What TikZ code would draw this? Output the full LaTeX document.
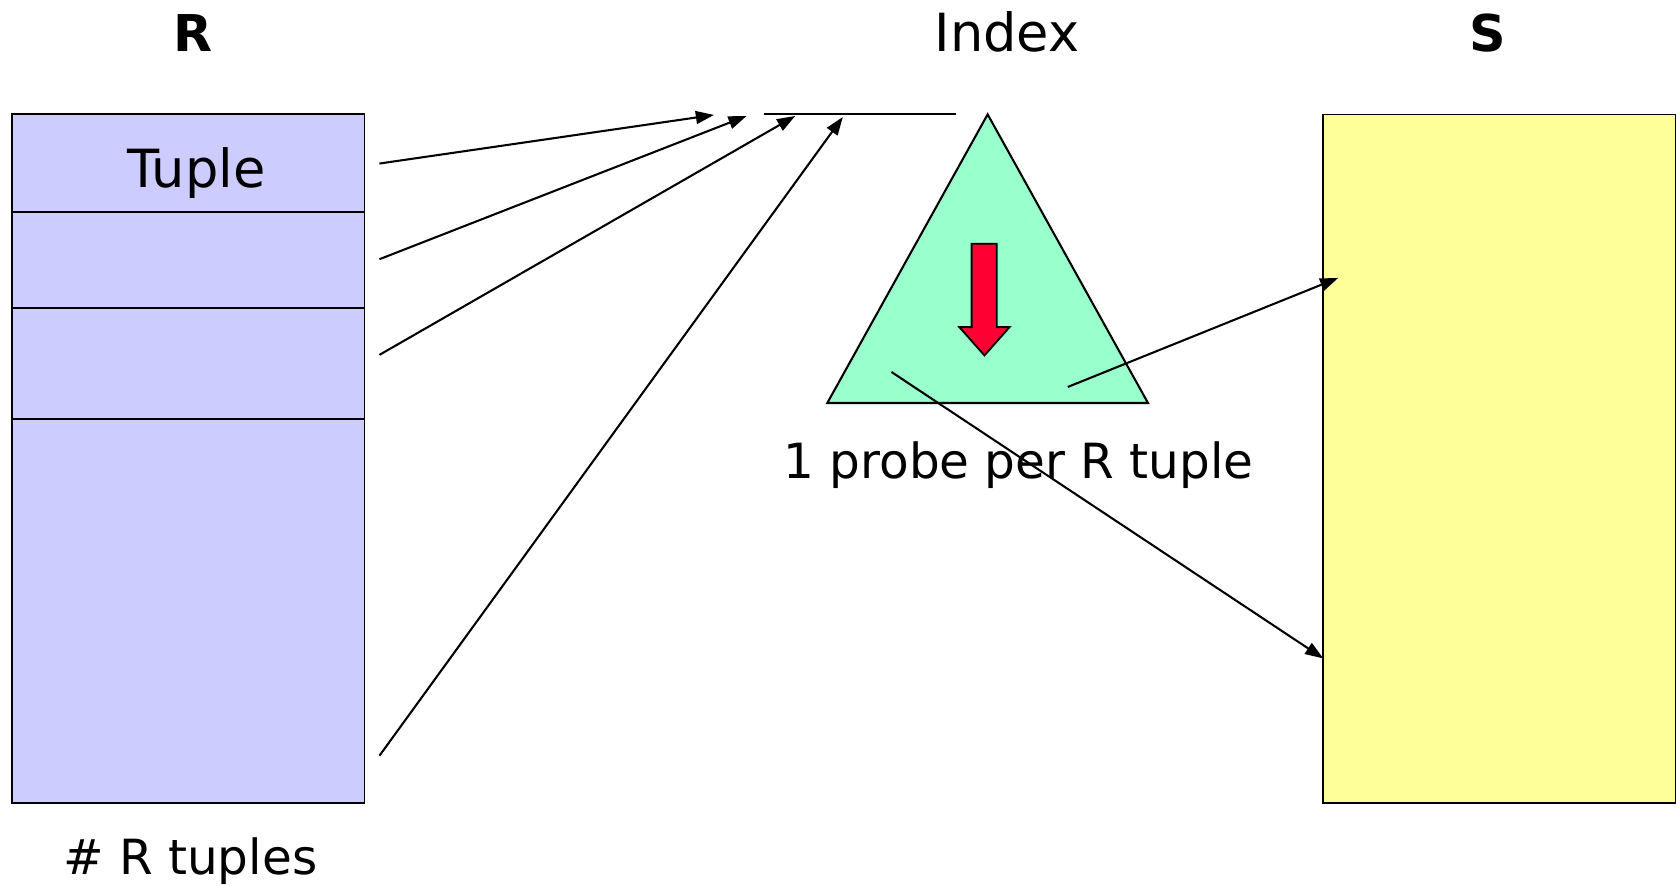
\documentclass[tikz,border=0pt]{standalone}
\usepackage{fontspec}
\setmainfont{DejaVu Sans}
\usetikzlibrary{arrows.meta}
\definecolor{rcol}{HTML}{CCCCFF}
\definecolor{scol}{HTML}{FFFF99}
\definecolor{tcol}{HTML}{99FFCC}
\definecolor{redc}{HTML}{FF0033}
\tikzset{
  rbox/.style={draw=black, line width=1pt, fill=rcol, minimum width=6.6cm, inner sep=0pt, outer sep=0pt},
  sbox/.style={draw=black, line width=1pt, fill=scol, minimum width=6.6cm, minimum height=12.88cm, inner sep=0pt},
  lbl/.style={font=\fontsize{25.8}{30}\selectfont, anchor=base, inner sep=0pt},
  biglbl/.style={font=\fontsize{28}{30}\selectfont, anchor=base, inner sep=0pt},
  blbl/.style={font=\fontsize{27}{30}\selectfont\bfseries, anchor=base, inner sep=0pt},
  arr/.style={line width=1.1pt, -{Triangle[length=0.34cm, width=0.24cm]}},
  plain/.style={line width=1.1pt}
}
\begin{document}
\begin{tikzpicture}[x=0.02cm, y=-0.02cm]
\useasboundingbox (0,0) rectangle (1568,829);
% R relation
\node[rbox, minimum height=1.82cm] (r1) at (176,152.5) {};
\node[rbox, minimum height=1.80cm] (r2) at (176,243) {};
\node[rbox, minimum height=2.08cm] (r3) at (176,340) {};
\node[rbox, minimum height=7.18cm] (r4) at (176,571.5) {};
\node[biglbl] (tup) at (184,175) {Tuple};
\node[blbl] (rl) at (181,48) {R};
\node[lbl] (rt) at (178,818.5) {\# R tuples};
% S relation
\node[sbox] (s) at (1403,429) {};
\node[blbl] (sl) at (1392,48) {S};
% Index
\node[biglbl] (ix) at (942,48) {Index};
\coordinate (il) at (715,107);
\coordinate (ir) at (894,107);
\draw[plain] (il) -- (ir);
\coordinate (tA) at (924,107);
\coordinate (tB) at (1074,377);
\coordinate (tC) at (774,377);
\draw[plain, fill=tcol] (tA) -- (tB) -- (tC) -- cycle;
\draw[line width=1pt, fill=redc] (909,228) -- (932.5,228) -- (932.5,306) -- (944.5,306) -- (921,332.5) -- (897.5,306) -- (909,306) -- cycle;
\node[lbl] (probe) at (953,447.5) {1 probe per R tuple};
% arrows
\coordinate (a1s) at (355,153);
\coordinate (a1e) at (668,107.5);
\coordinate (a2s) at (355,242.5);
\coordinate (a2e) at (698.5,108.5);
\coordinate (a3s) at (355,332);
\coordinate (a3e) at (744,108.5);
\coordinate (a4s) at (355,707);
\coordinate (a4e) at (788.5,109.5);
\coordinate (a5s) at (999,362);
\coordinate (a5e) at (1252,260);
\coordinate (a6s) at (834,348);
\coordinate (a6e) at (1238,616);
\draw[arr] (a1s) -- (a1e);
\draw[arr] (a2s) -- (a2e);
\draw[arr] (a3s) -- (a3e);
\draw[arr] (a4s) -- (a4e);
\draw[arr] (a5s) -- (a5e);
\draw[arr] (a6s) -- (a6e);
\end{tikzpicture}
\end{document}
